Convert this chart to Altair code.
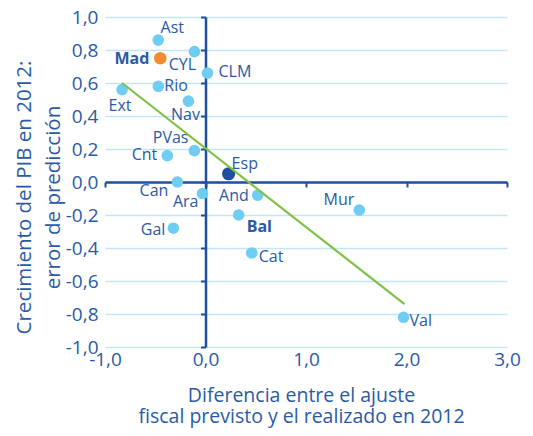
import altair as alt
import pandas as pd

names = ["Ast", "Mad", "CYL", "CLM", "Rio", "Ext", "Nav", "PVas", "Cnt", "Esp",
         "Can", "Ara", "And", "Bal", "Gal", "Cat", "Mur", "Val"]
x_vals = [-0.47, -0.45, -0.11, 0.02, -0.47, -0.83, -0.17, -0.11, -0.38, 0.23,
          -0.28, -0.03, 0.52, 0.33, -0.32, 0.46, 1.53, 1.97]
y_vals = [0.86, 0.75, 0.79, 0.66, 0.58, 0.56, 0.49, 0.19, 0.16, 0.05,
          0.00, -0.07, -0.08, -0.20, -0.28, -0.43, -0.17, -0.82]
groups = ["reg", "mad", "reg", "reg", "reg", "reg", "reg", "reg", "reg", "esp",
          "reg", "reg", "reg", "reg", "reg", "reg", "reg", "reg"]
bold_names = ["Mad", "Bal"]

trend_x = [-0.83, 1.98]
trend_y = [0.60, -0.74]

x_ticks = [-1, 0, 1, 2, 3]
y_ticks = [-1.0, -0.8, -0.6, -0.4, -0.2, 0.0, 0.2, 0.4, 0.6, 0.8, 1.0]

# label placement: (dx, dy, align)
label_pos = {
    "Ast": (14, -12, "center"), "Mad": (-11, 1, "right"), "CYL": (-12, 13, "center"),
    "CLM": (11, -1, "left"), "Rio": (6, 0, "left"), "Ext": (-2, 16, "center"),
    "Nav": (-3, 14, "center"), "PVas": (-6, -13, "right"), "Cnt": (-10, -1, "right"),
    "Esp": (3, -10, "left"), "Can": (-9, 9, "right"), "Ara": (-4, 8, "right"),
    "And": (-9, 1, "right"), "Bal": (8, 12, "left"), "Gal": (-8, 2, "right"),
    "Cat": (7, 4, "left"), "Mur": (-5, -10, "right"), "Val": (6, 4, "left"),
}

df = pd.DataFrame({"name": names, "x": x_vals, "y": y_vals, "grp": groups})
trend = pd.DataFrame({"x": trend_x, "y": trend_y})

FONT = "Open Sans"
TXT = "#2a5aa6"
DARK = "#1f4f9e"
GRID = "#c2e6f7"
LIGHT = "#6fcdf3"
ORANGE = "#f58b32"
GREEN = "#7ec143"

xs = alt.Scale(domain=[-1, 3], nice=False, zero=False)
ys = alt.Scale(domain=[-1, 1], nice=False, zero=False)
lab = "replace(replace(format(datum.value, '.1f'), '.', ','), '\u2212', '-')"

x_axis = alt.Axis(
    values=x_ticks, labelExpr=lab, domain=False, ticks=False, grid=False,
    labelFontSize=19, labelColor=TXT, labelFont=FONT, labelPadding=3,
    labelOverlap=False, labelFlush=False,
    title=["Diferencia entre el ajuste", "fiscal previsto y el realizado en 2012"],
    titleFont=FONT, titleFontSize=19.5, titleFontWeight="normal", titleColor=TXT,
    titlePadding=17, titleLineHeight=21, titleX=196)
y_axis = alt.Axis(
    values=y_ticks, labelExpr=lab, domain=False, ticks=False, grid=True,
    gridColor=GRID, gridWidth=1.5, labelOverlap=False, labelFlush=False,
    labelFontSize=19, labelColor=TXT, labelFont=FONT, labelPadding=7,
    title=["Crecimiento del PIB en 2012:", "error de predicción"],
    titleFont=FONT, titleFontSize=20.5, titleFontWeight="normal", titleColor=TXT,
    titlePadding=2, titleLineHeight=29, titleY=180)

points = alt.Chart(df).mark_circle(opacity=1).encode(
    x=alt.X("x:Q", scale=xs, axis=x_axis),
    y=alt.Y("y:Q", scale=ys, axis=y_axis),
    color=alt.Color("grp:N", scale=alt.Scale(domain=["reg", "mad", "esp"],
                                             range=[LIGHT, ORANGE, DARK]), legend=None),
    size=alt.Size("grp:N", scale=alt.Scale(domain=["reg", "mad", "esp"],
                                           range=[135, 175, 185]), legend=None),
)

labels = []
for n in names:
    dx, dy, al = label_pos[n]
    labels.append(alt.Chart(df).transform_filter(alt.datum.name == n).mark_text(
        dx=dx, dy=dy, align=al, baseline="middle", font=FONT, fontSize=16,
        fontWeight="bold" if n in bold_names else "normal", color=TXT
    ).encode(x=alt.X("x:Q", scale=xs, axis=x_axis), y=alt.Y("y:Q", scale=ys, axis=y_axis),
             text="name:N"))

base = alt.layer(points, *labels)

line = alt.Chart(trend).mark_line(color=GREEN, strokeWidth=2.2).encode(
    x=alt.X("x:Q", scale=xs, axis=alt.Axis(
        orient="bottom", offset=-165, values=x_ticks, labels=False, title=None,
        grid=False, domain=True, ticks=True, tickSize=5, domainColor=DARK,
        tickColor=DARK, domainWidth=2.5, tickWidth=2)),
    y=alt.Y("y:Q", scale=ys, axis=alt.Axis(
        orient="left", offset=-100.5, values=y_ticks, labels=False, title=None,
        grid=False, domain=True, ticks=True, tickSize=5, domainColor=DARK,
        tickColor=DARK, domainWidth=2.5, tickWidth=2)),
)

chart = alt.layer(base, line).resolve_scale(x="independent", y="independent").properties(
    width=402, height=330,
    autosize=alt.AutoSizeParams(type="none"),
    padding={"left": 97, "top": 9, "right": 18, "bottom": 81},
).configure_view(stroke=None)

chart.save("out.html", embed_options={"renderer": "svg", "actions": False})
